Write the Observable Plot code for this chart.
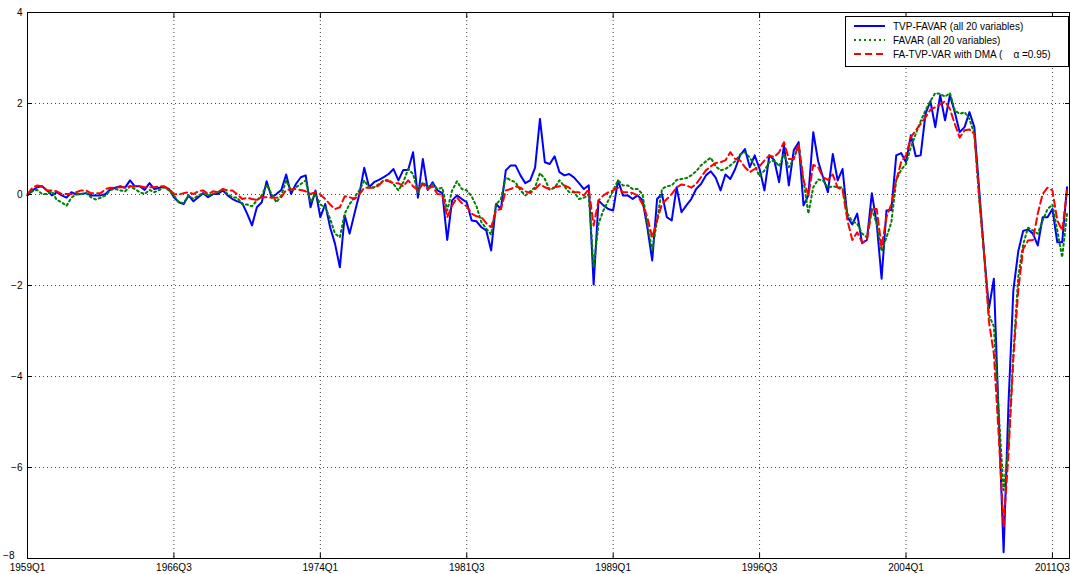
<!DOCTYPE html>
<html><head><meta charset="utf-8">
<script src="https://cdn.jsdelivr.net/npm/d3@7"></script>
<script src="https://cdn.jsdelivr.net/npm/@observablehq/plot@0.6"></script>
<style>
body{margin:0;background:#fff;}
#wrap{position:relative;width:1070px;height:574px;font-family:"Liberation Sans",Arial,sans-serif;}
#legend{position:absolute;left:845px;top:16px;width:222px;height:49px;border:1px solid #000;background:#fff;font-size:10px;color:#000;}
.row{position:absolute;left:0;height:14px;display:flex;align-items:center;white-space:pre;}
.row svg{margin-left:8px;margin-right:8px;}
</style></head><body><div id="wrap"></div>
<script>
// Quarterly observations 1959Q1 .. 2012Q2 (index 0..213)
const tickIndex = [0, 30, 60, 90, 120, 150, 180, 210];
const tickLabels = ["1959Q1","1966Q3","1974Q1","1981Q3","1989Q1","1996Q3","2004Q1","2011Q3"];
const yTicks = [-8, -6, -4, -2, 0, 2, 4];

const tvpFavar = [
-0.02,0.09,0.16,0.18,0.09,-0.02,0.05,-0.02,-0.07,0.05,
0.0,0.01,0.03,-0.02,-0.02,-0.02,0.01,0.12,0.15,0.18,
0.15,0.31,0.18,0.18,0.1,0.25,0.12,0.15,0.17,0.12,
-0.06,-0.17,-0.21,-0.02,-0.15,-0.06,0.03,-0.06,0.01,0.01,
0.09,-0.02,-0.1,-0.15,-0.19,-0.42,-0.68,-0.28,-0.17,0.29,
-0.06,0.01,0.1,0.44,0.01,0.23,0.38,0.42,-0.28,0.09,
-0.5,-0.21,-0.72,-1.08,-1.6,-0.46,-0.86,-0.42,0.01,0.59,
0.16,0.27,0.32,0.38,0.45,0.56,0.31,0.54,0.54,0.93,
-0.07,0.78,0.1,0.27,0.09,0.03,-1.0,-0.13,-0.02,-0.1,
-0.17,-0.57,-0.59,-0.72,-0.79,-1.23,-0.21,-0.32,0.53,0.64,
0.64,0.42,0.25,0.31,0.59,1.66,0.71,0.67,0.84,0.49,
0.42,0.45,0.37,0.25,0.12,0.2,-1.98,-0.13,-0.24,-0.32,
-0.35,0.31,-0.02,-0.02,-0.1,-0.02,-0.12,-0.72,-1.45,-0.1,
0.01,-0.5,-0.57,0.16,-0.39,-0.24,-0.1,0.12,0.23,0.42,
0.51,0.37,0.09,0.44,0.34,0.56,0.86,1.0,0.6,0.86,
0.56,0.09,0.86,0.76,0.27,1.08,0.2,0.97,1.15,-0.24,
-0.02,1.37,0.73,0.38,0.05,0.89,0.31,0.56,-0.5,-0.66,
-0.42,-1.07,-1.0,0.03,-0.64,-1.85,-0.35,-0.34,0.86,0.91,
0.71,1.3,0.84,0.86,1.77,2.05,1.48,2.18,1.63,2.18,
1.81,1.37,1.48,1.81,1.48,0.1,-1.3,-2.5,-1.85,-4.9,
-7.86,-4.6,-2.1,-1.25,-0.8,-0.77,-0.86,-1.12,-0.5,-0.5,
-0.32,-1.05,-1.05,0.16
];

const favar = [
-0.02,0.07,0.1,0.01,0.01,0.07,-0.12,-0.17,-0.25,-0.07,
0.01,0.01,0.03,-0.06,-0.11,-0.07,-0.02,0.1,0.12,0.09,
0.07,0.18,0.12,0.05,0.01,0.1,0.05,0.1,0.16,0.09,
-0.02,-0.17,-0.19,-0.02,-0.1,-0.02,0.03,-0.02,0.01,0.05,
0.12,0.01,-0.06,-0.07,-0.21,-0.22,-0.26,-0.13,-0.02,0.22,
0.01,-0.17,-0.02,0.31,0.09,0.16,0.23,0.31,-0.17,0.01,
-0.22,-0.28,-0.53,-0.86,-0.94,-0.42,-0.21,-0.06,0.09,0.31,
0.15,0.16,0.23,0.31,0.32,0.23,0.09,0.27,0.56,0.45,
0.05,0.27,0.16,0.23,0.12,0.15,-0.35,0.09,0.29,0.12,
0.09,-0.04,-0.26,-0.61,-0.75,-0.88,-0.22,-0.1,0.38,0.31,
0.27,0.09,-0.02,0.07,0.16,0.47,0.34,0.1,0.15,0.31,
0.18,0.05,0.05,-0.1,-0.07,-0.02,-1.6,-0.64,-0.35,-0.13,
0.09,0.31,0.2,0.2,0.12,0.12,0.01,-0.64,-1.23,-0.57,
0.12,0.18,0.2,0.32,0.34,0.36,0.42,0.51,0.64,0.73,
0.81,0.62,0.53,0.56,0.64,0.73,0.88,0.93,0.81,0.64,
0.4,0.53,0.71,0.75,0.62,0.88,0.6,0.78,1.08,0.31,
-0.42,0.16,0.33,0.31,0.15,0.18,0.16,0.15,-0.42,-0.59,
-0.64,-0.86,-0.94,-0.32,-0.64,-1.25,-0.94,-0.61,0.31,0.54,
0.67,1.04,1.33,1.61,1.85,2.05,2.23,2.21,2.15,2.23,
1.85,1.77,1.81,1.66,1.33,-0.1,-1.3,-2.65,-2.9,-4.8,
-6.5,-5.5,-3.5,-1.8,-1.1,-0.73,-0.79,-0.86,-0.57,-0.32,
-0.22,-0.79,-1.38,-0.42
];

const faTvpVarDma = [
0.01,0.15,0.2,0.18,0.09,0.09,0.07,0.01,0.01,0.01,
0.05,0.09,0.09,0.03,0.03,0.03,0.12,0.15,0.15,0.16,
0.16,0.18,0.18,0.18,0.16,0.16,0.16,0.18,0.18,0.12,
0.01,0.0,0.03,0.05,0.01,0.07,0.09,0.01,0.07,0.05,
0.12,0.09,0.09,0.0,-0.1,-0.07,-0.1,-0.12,-0.06,-0.06,
-0.07,-0.07,-0.06,0.1,0.11,0.12,0.1,0.07,0.01,0.05,
0.0,-0.1,-0.22,-0.32,-0.28,-0.04,-0.06,-0.1,0.0,0.15,
0.15,0.15,0.2,0.31,0.29,0.25,0.25,0.18,0.31,0.18,
0.09,0.23,0.12,0.18,0.01,0.0,-0.5,-0.24,-0.07,-0.19,
-0.26,-0.42,-0.48,-0.5,-0.63,-0.72,-0.35,-0.32,0.09,0.12,
0.18,0.15,0.07,0.03,0.12,0.23,0.16,0.12,0.16,0.18,
0.2,0.15,0.05,0.05,-0.02,0.12,-0.68,-0.13,-0.02,0.05,
0.09,0.15,0.05,0.05,0.03,-0.02,-0.21,-0.5,-0.94,-0.57,
-0.21,-0.1,0.01,0.16,0.22,0.2,0.15,0.23,0.38,0.53,
0.62,0.69,0.71,0.75,0.93,0.78,0.75,0.6,0.49,0.56,
0.62,0.75,0.86,0.82,0.93,1.15,0.78,0.78,1.11,0.31,
-0.02,0.65,0.6,0.38,0.32,0.44,0.15,0.1,-0.57,-1.0,
-0.83,-1.05,-1.01,-0.32,-0.32,-1.16,-0.5,-0.21,0.31,0.71,
0.86,1.26,1.41,1.55,1.7,1.86,1.92,1.98,2.05,1.88,
1.55,1.25,1.41,1.43,1.33,-0.06,-1.3,-2.8,-3.5,-5.3,
-7.3,-5.7,-3.6,-2.1,-1.2,-1.01,-1.0,-0.42,0.01,0.15,
0.09,-0.57,-0.79,0.09
];

const gridStyle = {stroke: "#444", strokeOpacity: 1, strokeWidth: 1, strokeDasharray: "1,3"};

const chart = Plot.plot({
  width: 1070,
  height: 574,
  marginLeft: 27,
  marginRight: 1,
  marginTop: 12,
  marginBottom: 16,
  style: {fontFamily: "'Liberation Sans', Arial, sans-serif", fontSize: "10px", background: "#fff", color: "#000"},
  x: {domain: [0, 213.5]},
  y: {domain: [-8, 4]},
  marks: [
    Plot.gridX(tickIndex.slice(1), gridStyle),
    Plot.gridY(yTicks.slice(1, -1), gridStyle),
    Plot.line(tvpFavar, {x: (d, i) => i, y: d => d, stroke: "#0000ff", strokeWidth: 2}),
    Plot.line(favar, {x: (d, i) => i, y: d => d, stroke: "#008000", strokeWidth: 2, strokeDasharray: "2,3"}),
    Plot.line(faTvpVarDma, {x: (d, i) => i, y: d => d, stroke: "#ff0000", strokeWidth: 2, strokeDasharray: "7,4"}),
    Plot.axisX({ticks: tickIndex, tickFormat: d => tickLabels[tickIndex.indexOf(d)], tickSize: 0, tickPadding: 5, label: null}),
    Plot.axisY({ticks: yTicks.slice(1), tickSize: 0, tickPadding: 5, label: null}),
    Plot.axisY({ticks: [yTicks[0]], tickSize: 0, tickPadding: 13, dy: -3, label: null}),
    Plot.axisX({ticks: tickIndex, tickFormat: () => "", tickSize: -5, label: null, stroke: "#000"}),
    Plot.axisX({anchor: "top", ticks: tickIndex, tickFormat: () => "", tickSize: -5, label: null, stroke: "#000"}),
    Plot.axisY({ticks: yTicks, tickFormat: () => "", tickSize: -5, label: null, stroke: "#000"}),
    Plot.axisY({anchor: "right", ticks: yTicks, tickFormat: () => "", tickSize: -5, label: null, stroke: "#000"}),
    Plot.frame({stroke: "#000", strokeWidth: 1})
  ]
});

const wrap = document.getElementById("wrap");
wrap.appendChild(chart);

const legendItems = [
  {label: "TVP-FAVAR (all 20 variables)", color: "#0000ff", dash: "none"},
  {label: "FAVAR (all 20 variables)", color: "#008000", dash: "2,3"},
  {label: "FA-TVP-VAR with DMA (    \u03b1 =0.95)", color: "#ff0000", dash: "7,4"}
];
const legend = document.createElement("div");
legend.id = "legend";
legendItems.forEach((it, k) => {
  const row = document.createElement("div");
  row.className = "row";
  row.style.top = (2 + k * 14) + "px";
  row.innerHTML = `<svg width="31" height="4"><line x1="0" y1="2" x2="31" y2="2" stroke="${it.color}" stroke-width="2" stroke-dasharray="${it.dash}"/></svg><span>${it.label}</span>`;
  legend.appendChild(row);
});
wrap.appendChild(legend);
</script>
</body></html>
